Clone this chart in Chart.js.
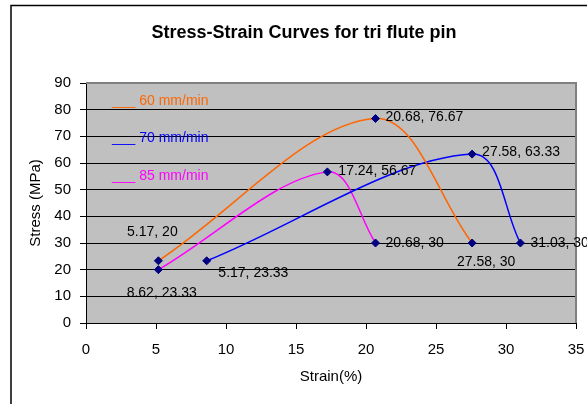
<!DOCTYPE html>
<html>
<head>
<meta charset="utf-8">
<script src="https://cdn.jsdelivr.net/npm/chart.js@4/dist/chart.umd.min.js"></script>
<style>
  body { margin: 0; background: #fff; }
  canvas { display: block; }
</style>
</head>
<body>
<canvas id="chart" width="587" height="404"></canvas>
<script>
// chart data
const chartTitle = "Stress-Strain Curves for tri flute pin";
const seriesNames = ["60 mm/min", "70 mm/min", "85 mm/min"];
const strain60 = [5.17, 20.68, 27.58];
const stress60 = [23.33, 76.67, 30];
const strain70 = [8.62, 27.58, 31.03];
const stress70 = [23.33, 63.33, 30];
const strain85 = [5.17, 17.24, 20.68];
const stress85 = [20, 56.67, 30];
const xTickMax = 35;
const yTickMax = 90;

const FONT = "'Liberation Sans', Arial, sans-serif";
const colors = ["#FF6600", "#0000FF", "#FF00FF"];

// where each data label sits relative to its marker [dx, dy, align]
const labelOffsets = [
  [[95, 12, "center"], [10, -1, "left"], [14, 19, "center"]],
  [[-45, 32, "center"], [10, -2, "left"], [10, 0, "left"]],
  [[-6, -38, "center"], [11, -1, "left"], [10, 0, "left"]],
];

function toPoints(xs, ys) {
  return xs.map((x, i) => ({ x: x, y: ys[i] }));
}

const backdrop = {
  id: "backdrop",
  beforeDraw(chart) {
    const { ctx, chartArea: a } = chart;
    ctx.save();
    ctx.fillStyle = "#fff";
    ctx.fillRect(0, 0, chart.width, chart.height);
    ctx.strokeStyle = "#000";
    ctx.lineWidth = 1.5;
    ctx.strokeRect(11, 5.5, 600, 420);
    ctx.fillStyle = "#C0C0C0";
    ctx.fillRect(a.left, a.top, a.right - a.left, a.bottom - a.top);
    ctx.fillStyle = "#000";
    ctx.font = "bold 18px " + FONT;
    ctx.textAlign = "center";
    ctx.textBaseline = "middle";
    ctx.fillText(chartTitle, 304, 33);
    ctx.restore();
  },
  beforeDatasetsDraw(chart) {
    const { ctx, chartArea: a } = chart;
    ctx.save();
    ctx.strokeStyle = "#808080";
    ctx.lineWidth = 2;
    ctx.beginPath();
    ctx.moveTo(a.left, a.top);
    ctx.lineTo(a.right, a.top);
    ctx.lineTo(a.right, a.bottom);
    ctx.stroke();
    ctx.restore();
  },
  afterDatasetsDraw(chart) {
    const { ctx, scales } = chart;
    ctx.save();
    ctx.font = "14px " + FONT;
    ctx.textBaseline = "middle";
    // legend as text inside the plot
    chart.data.datasets.forEach((ds, i) => {
      ctx.fillStyle = ds.borderColor;
      ctx.textAlign = "left";
      ctx.fillText("___ " + ds.label, 112, 101 + i * 37.5);
    });
    // data labels
    ctx.fillStyle = "#000";
    chart.data.datasets.forEach((ds, i) => {
      ds.data.forEach((p, j) => {
        const off = labelOffsets[i][j];
        const px = scales.x.getPixelForValue(p.x);
        const py = scales.y.getPixelForValue(p.y);
        ctx.textAlign = off[2];
        ctx.fillText(p.x + ", " + p.y, px + off[0], py + off[1]);
      });
    });
    ctx.restore();
  },
};

const data = {
  datasets: [
    toPoints(strain60, stress60),
    toPoints(strain70, stress70),
    toPoints(strain85, stress85),
  ].map((pts, i) => ({
    label: seriesNames[i],
    data: pts,
    borderColor: colors[i],
    backgroundColor: colors[i],
    borderWidth: 1.5,
    tension: 0.35,
    pointStyle: "rectRot",
    pointRadius: 4,
    pointBackgroundColor: "#000080",
    pointBorderColor: "#000080",
    pointBorderWidth: 1,
    clip: false,
  })),
};

new Chart(document.getElementById("chart"), {
  type: "scatter",
  data: data,
  options: {
    responsive: false,
    animation: false,
    showLine: true,
    layout: { padding: { top: 83, right: 0, left: 0, bottom: 0 } },
    plugins: {
      legend: { display: false },
      title: { display: false },
      tooltip: { enabled: false },
    },
    scales: {
      x: {
        type: "linear",
        min: 0,
        max: xTickMax,
        afterFit(scale) {
          scale.height = 81;
          scale.paddingLeft = 0;
          scale.paddingRight = 11;
        },
        ticks: { stepSize: 5, color: "#000", padding: 12, font: { family: FONT, size: 15 } },
        grid: { drawOnChartArea: false, tickLength: 6, color: "#000" },
        border: { color: "#000", width: 1 },
        title: {
          display: true,
          text: "Strain(%)",
          color: "#000",
          font: { family: FONT, size: 15 },
          padding: { top: 0, bottom: 18 },
        },
      },
      y: {
        min: 0,
        max: yTickMax,
        afterFit(scale) { scale.width = 86; },
        ticks: { stepSize: 10, color: "#000", padding: 9, font: { family: FONT, size: 15 } },
        grid: { color: "#000", tickLength: 6, lineWidth: 1 },
        border: { color: "#000", width: 1 },
        title: {
          display: true,
          text: "Stress (MPa)",
          color: "#000",
          font: { family: FONT, size: 15 },
          padding: { top: 27, bottom: 0 },
        },
      },
    },
  },
  plugins: [backdrop],
});
</script>
</body>
</html>
